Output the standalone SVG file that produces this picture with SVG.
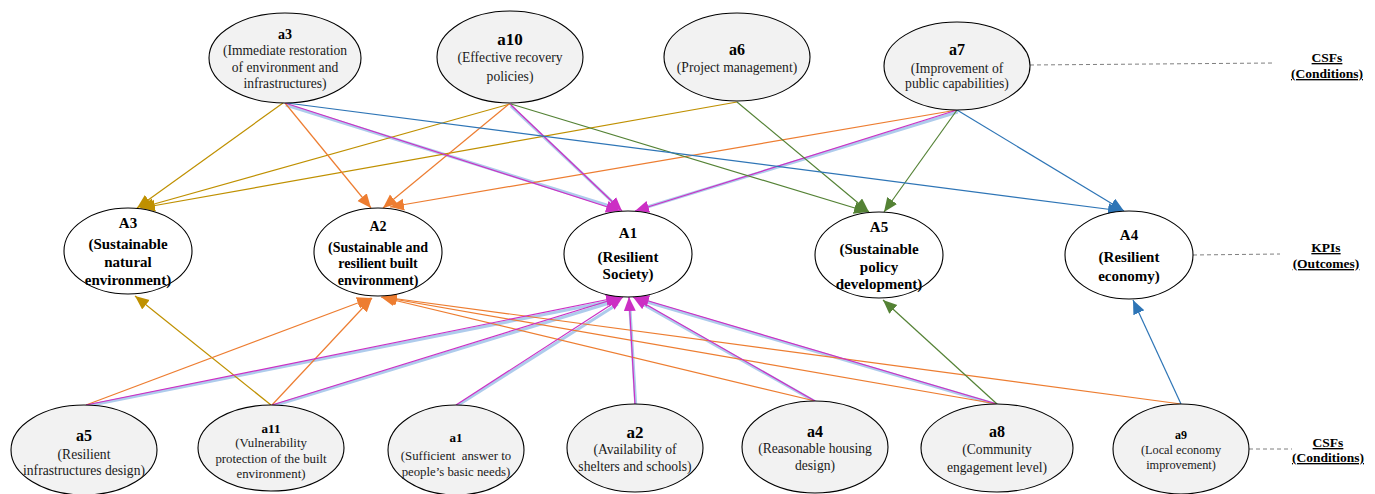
<svg xmlns="http://www.w3.org/2000/svg" width="1375" height="494" viewBox="0 0 1375 494">
<defs>
<style>
.t{font-family:"Liberation Serif","Times New Roman",serif;fill:#1a1a1a;text-anchor:middle}
.b{font-weight:bold;fill:#000}
.d{font-size:13.6px}
.nf{fill:#f2f2f2;stroke:#000;stroke-width:1.1}
.nw{fill:#fff;stroke:#000;stroke-width:1.1}
.e{fill:none;stroke-width:1.2}
.gold{stroke:#bf9000}
.org{stroke:#ed7d31}
.blu{stroke:#2e75b6}
.grn{stroke:#548235}
.mag{stroke:#cc2fc4}
.halo{fill:none;stroke:#aecbec;stroke-width:3}
.dash{fill:none;stroke:#7f7f7f;stroke-width:1;stroke-dasharray:4 3}
.lab{font-family:"Liberation Serif","Times New Roman",serif;font-weight:bold;font-size:13.5px;text-anchor:middle;text-decoration:underline;fill:#000}
</style>
<marker id="mGold" markerUnits="userSpaceOnUse" markerWidth="16" markerHeight="14" refX="14" refY="6" orient="auto"><path d="M0,0 L14,6 L0,12 z" fill="#bf9000"/></marker>
<marker id="mOrg" markerUnits="userSpaceOnUse" markerWidth="16" markerHeight="14" refX="14" refY="6" orient="auto"><path d="M0,0 L14,6 L0,12 z" fill="#ed7d31"/></marker>
<marker id="mBlu" markerUnits="userSpaceOnUse" markerWidth="16" markerHeight="14" refX="14" refY="6" orient="auto"><path d="M0,0 L14,6 L0,12 z" fill="#2e75b6"/></marker>
<marker id="mGrn" markerUnits="userSpaceOnUse" markerWidth="16" markerHeight="14" refX="14" refY="6" orient="auto"><path d="M0,0 L14,6 L0,12 z" fill="#548235"/></marker>
<marker id="mMag" markerUnits="userSpaceOnUse" markerWidth="16" markerHeight="14" refX="14" refY="6" orient="auto"><path d="M0,0 L14,6 L0,12 z" fill="#cc2fc4"/></marker>
</defs>
<rect width="1375" height="494" fill="#fff"/>

<g id="connectors">
<g transform="translate(0.8,1)">
<line class="halo" x1="285" y1="104" x2="612" y2="206"/>
<line class="halo" x1="510" y1="105" x2="615" y2="204"/>
<line class="halo" x1="957" y1="111" x2="643" y2="207"/>
<line class="halo" x1="86" y1="405" x2="611" y2="300"/>
<line class="halo" x1="272" y1="405" x2="612" y2="301"/>
<line class="halo" x1="456" y1="405" x2="617" y2="303"/>
<line class="halo" x1="635" y1="405" x2="629" y2="305"/>
<line class="halo" x1="815" y1="401" x2="640" y2="302"/>
<line class="halo" x1="997" y1="404" x2="643" y2="300"/>
</g>

<line class="e gold" x1="283" y1="103" x2="137" y2="208" marker-end="url(#mGold)"/>
<line class="e gold" x1="510" y1="104" x2="140" y2="208" marker-end="url(#mGold)"/>
<line class="e gold" x1="737" y1="102" x2="141" y2="208" marker-end="url(#mGold)"/>
<line class="e org" x1="285" y1="103" x2="371" y2="208" marker-end="url(#mOrg)"/>
<line class="e org" x1="509" y1="104" x2="383" y2="208" marker-end="url(#mOrg)"/>
<line class="e org" x1="957" y1="110" x2="390" y2="207" marker-end="url(#mOrg)"/>
<line class="e mag" x1="285" y1="103" x2="620" y2="211" marker-end="url(#mMag)"/>
<line class="e mag" x1="510" y1="104" x2="622" y2="211" marker-end="url(#mMag)"/>
<line class="e mag" x1="957" y1="110" x2="635" y2="211" marker-end="url(#mMag)"/>
<line class="e grn" x1="511" y1="104" x2="868" y2="212" marker-end="url(#mGrn)"/>
<line class="e grn" x1="737" y1="102" x2="869" y2="212" marker-end="url(#mGrn)"/>
<line class="e grn" x1="957" y1="110" x2="884" y2="212" marker-end="url(#mGrn)"/>
<line class="e blu" x1="287" y1="103" x2="1122" y2="211" marker-end="url(#mBlu)"/>
<line class="e blu" x1="957" y1="110" x2="1124" y2="211" marker-end="url(#mBlu)"/>

<line class="e gold" x1="271" y1="405" x2="135" y2="296" marker-end="url(#mGold)"/>
<line class="e org" x1="86" y1="405" x2="371" y2="298" marker-end="url(#mOrg)"/>
<line class="e org" x1="272" y1="405" x2="372" y2="298" marker-end="url(#mOrg)"/>
<line class="e org" x1="815" y1="401" x2="381" y2="297" marker-end="url(#mOrg)"/>
<line class="e org" x1="997" y1="404" x2="382" y2="297" marker-end="url(#mOrg)"/>
<line class="e org" x1="1181" y1="404" x2="383" y2="297" marker-end="url(#mOrg)"/>
<line class="e mag" x1="86" y1="405" x2="620" y2="297" marker-end="url(#mMag)"/>
<line class="e mag" x1="272" y1="405" x2="621" y2="297" marker-end="url(#mMag)"/>
<line class="e mag" x1="456" y1="405" x2="623" y2="297" marker-end="url(#mMag)"/>
<line class="e mag" x1="635" y1="405" x2="629" y2="297" marker-end="url(#mMag)"/>
<line class="e mag" x1="815" y1="401" x2="633" y2="297" marker-end="url(#mMag)"/>
<line class="e mag" x1="997" y1="404" x2="635" y2="297" marker-end="url(#mMag)"/>
<line class="e grn" x1="997" y1="404" x2="883" y2="300" marker-end="url(#mGrn)"/>
<line class="e blu" x1="1181" y1="404" x2="1133" y2="300" marker-end="url(#mBlu)"/>

<line class="dash" x1="1030" y1="65" x2="1275" y2="63"/>
<line class="dash" x1="1193" y1="255" x2="1280" y2="254"/>
<line class="dash" x1="1249" y1="449" x2="1292" y2="449"/>
</g>

<g id="a3">
<ellipse class="nf" cx="285" cy="58" rx="76" ry="45"/>
<text class="t b" x="285" y="39" font-size="14">a3</text>
<text class="t d" x="285" y="54.5">(Immediate restoration</text>
<text class="t d" x="285" y="71.5">of environment and</text>
<text class="t d" x="285" y="87.5">infrastructures)</text>
</g>
<g id="a10">
<ellipse class="nf" cx="510" cy="57" rx="73" ry="46"/>
<text class="t b" x="510" y="45" font-size="17">a10</text>
<text class="t d" x="510" y="61.5">(Effective recovery</text>
<text class="t d" x="510" y="80.5">policies)</text>
</g>
<g id="a6">
<ellipse class="nf" cx="737" cy="57" rx="73" ry="44"/>
<text class="t b" x="737" y="55" font-size="16">a6</text>
<text class="t d" x="737" y="71.5">(Project management)</text>
</g>
<g id="a7">
<ellipse class="nf" cx="957" cy="66" rx="73" ry="44"/>
<text class="t b" x="957" y="55" font-size="16">a7</text>
<text class="t d" x="957" y="72.5">(Improvement of</text>
<text class="t d" x="957" y="87.5">public capabilities)</text>
</g>

<g id="A3">
<ellipse class="nw" cx="128" cy="251" rx="64" ry="43"/>
<text class="t b" x="128" y="228" font-size="15">A3</text>
<text class="t b" x="128" y="249" font-size="15">(Sustainable</text>
<text class="t b" x="128" y="267" font-size="15">natural</text>
<text class="t b" x="128" y="285" font-size="15">environment)</text>
</g>
<g id="A2">
<ellipse class="nw" cx="378" cy="252" rx="64" ry="44"/>
<text class="t b" x="378" y="231" font-size="14">A2</text>
<text class="t b" x="378" y="252" font-size="14">(Sustainable and</text>
<text class="t b" x="378" y="268" font-size="14">resilient built</text>
<text class="t b" x="378" y="285" font-size="14">environment)</text>
</g>
<g id="A1">
<ellipse class="nw" cx="628" cy="254" rx="64" ry="43"/>
<text class="t b" x="628" y="238" font-size="15">A1</text>
<text class="t b" x="628" y="262" font-size="15">(Resilient</text>
<text class="t b" x="628" y="279" font-size="15">Society)</text>
</g>
<g id="A5">
<ellipse class="nw" cx="879" cy="255" rx="64" ry="43"/>
<text class="t b" x="879" y="232" font-size="15">A5</text>
<text class="t b" x="879" y="254" font-size="15">(Sustainable</text>
<text class="t b" x="879" y="272" font-size="15">policy</text>
<text class="t b" x="879" y="289" font-size="15">development)</text>
</g>
<g id="A4">
<ellipse class="nw" cx="1129" cy="255" rx="64" ry="44"/>
<text class="t b" x="1129" y="240" font-size="15">A4</text>
<text class="t b" x="1129" y="262" font-size="15">(Resilient</text>
<text class="t b" x="1129" y="281" font-size="15">economy)</text>
</g>

<g id="a5">
<ellipse class="nf" cx="84" cy="450" rx="73" ry="45"/>
<text class="t b" x="84" y="440.5" font-size="16">a5</text>
<text class="t d" x="84" y="458.5">(Resilient</text>
<text class="t d" x="84" y="474.5">infrastructures design)</text>
</g>
<g id="a11">
<ellipse class="nf" cx="271" cy="448" rx="73" ry="43"/>
<text class="t b" x="271" y="432.5" font-size="13">a11</text>
<text class="t" x="271" y="446.5" font-size="12.8">(Vulnerability</text>
<text class="t" x="271" y="462.5" font-size="12.8">protection of the built</text>
<text class="t" x="271" y="477.5" font-size="12.8">environment)</text>
</g>
<g id="a1">
<ellipse class="nf" cx="456" cy="450" rx="68" ry="45"/>
<text class="t b" x="456" y="441.5" font-size="13">a1</text>
<text class="t" x="456" y="459.5" font-size="12.8" xml:space="preserve">(Sufficient  answer to</text>
<text class="t" x="456" y="475.5" font-size="12.8">people’s basic needs)</text>
</g>
<g id="a2">
<ellipse class="nf" cx="635" cy="448" rx="68" ry="44"/>
<text class="t b" x="635" y="437.5" font-size="17">a2</text>
<text class="t d" x="635" y="453.5">(Availability of</text>
<text class="t d" x="635" y="470.5">shelters and schools)</text>
</g>
<g id="a4">
<ellipse class="nf" cx="815" cy="447" rx="73" ry="46"/>
<text class="t b" x="815" y="436.5" font-size="16">a4</text>
<text class="t d" x="815" y="452.5">(Reasonable housing</text>
<text class="t d" x="815" y="469.5">design)</text>
</g>
<g id="a8">
<ellipse class="nf" cx="997" cy="448" rx="76" ry="44"/>
<text class="t b" x="997" y="436.5" font-size="16">a8</text>
<text class="t d" x="997" y="453.5">(Community</text>
<text class="t d" x="997" y="471.5">engagement level)</text>
</g>
<g id="a9">
<ellipse class="nf" cx="1181" cy="449" rx="68" ry="45"/>
<text class="t b" x="1181" y="439" font-size="12">a9</text>
<text class="t" x="1181" y="454" font-size="12.3">(Local economy</text>
<text class="t" x="1181" y="469" font-size="12.3">improvement)</text>
</g>

<g id="legend">
<text class="lab" x="1327" y="62">CSFs</text>
<text class="lab" x="1327" y="78">(Conditions)</text>
<text class="lab" x="1326" y="252">KPIs</text>
<text class="lab" x="1326" y="268">(Outcomes)</text>
<text class="lab" x="1328" y="447">CSFs</text>
<text class="lab" x="1328" y="462">(Conditions)</text>
</g>
</svg>
